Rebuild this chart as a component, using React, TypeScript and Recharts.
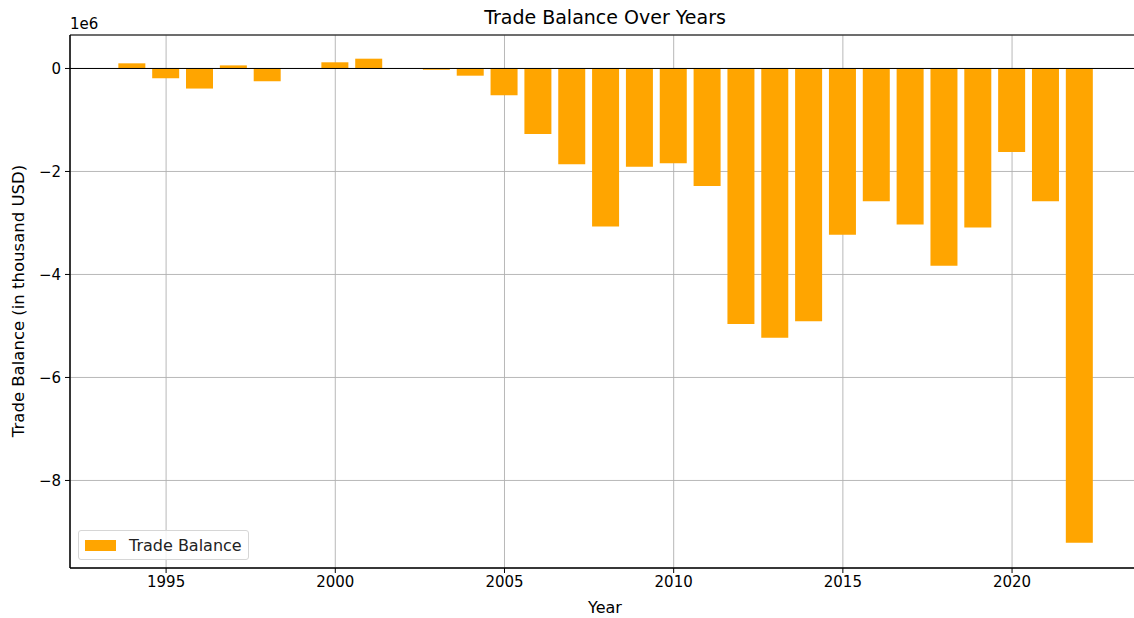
import { BarChart, Bar, XAxis, YAxis, CartesianGrid, ReferenceLine, ReferenceArea, Legend } from 'recharts';

const years = [
  1994, 1995, 1996, 1997, 1998, 1999, 2000, 2001, 2002, 2003, 2004, 2005, 2006, 2007, 2008,
  2009, 2010, 2011, 2012, 2013, 2014, 2015, 2016, 2017, 2018, 2019, 2020, 2021, 2022,
];

// trade balance, thousand USD
const balance = [
  100000, -190000, -390000, 60000, -250000, 0, 120000, 190000, 0, -25000, -140000, -520000,
  -1270000, -1860000, -3070000, -1910000, -1840000, -2280000, -4960000, -5230000, -4910000,
  -3230000, -2580000, -3030000, -3830000, -3090000, -1620000, -2580000, -9210000,
];

const xTicks = [1995, 2000, 2005, 2010, 2015, 2020];
const yTicks = [-8e6, -6e6, -4e6, -2e6, 0];

const xDomain = [1992.16, 2023.84];
const yDomain = [-9.7e6, 0.65e6];

const data = years.map((y, i) => ({ year: y, value: balance[i] }));

const FONT = 'DejaVu Sans, sans-serif';
const ORANGE = '#ffa500';
const FS = 15;
const LABEL_FS = 16.5;

const fmtY = (v: number) => {
  const n = Math.round(v / 1e6);
  return n < 0 ? '\u2212' + Math.abs(n) : String(n);
};

function LegendBox() {
  return (
    <div
      style={{
        display: 'flex',
        alignItems: 'center',
        width: 171,
        height: 30,
        border: '1px solid #d6d6d6',
        borderRadius: 3,
        background: 'rgba(255,255,255,0.8)',
        padding: '0 6px',
        fontFamily: FONT,
        fontSize: 16,
        color: '#222',
        boxSizing: 'border-box',
      }}
    >
      <span style={{ display: 'inline-block', width: 31, height: 11, background: ORANGE, marginRight: 13 }} />
      <span>Trade Balance</span>
    </div>
  );
}

export default function App() {
  // the original figure is cropped on the right, so the plot runs past the window edge
  return (
    <div style={{ position: 'absolute', left: 0, top: 0, width: 1134, height: 618, background: '#fff', overflow: 'hidden' }}>
      <BarChart
        width={1142}
        height={618}
        data={data}
        margin={{ top: 35, right: 0, bottom: 0, left: 0 }}
      >
        <CartesianGrid stroke="#b0b0b0" strokeWidth={0.9} />
        <XAxis
          dataKey="year"
          type="number"
          domain={xDomain}
          ticks={xTicks}
          allowDataOverflow
          height={50}
          tickSize={5}
          tickMargin={3}
          axisLine={{ stroke: '#000', strokeWidth: 1 }}
          tickLine={{ stroke: '#000' }}
          tick={{ fill: '#000', fontSize: FS, fontFamily: FONT }}
        />
        <YAxis
          type="number"
          domain={yDomain}
          ticks={yTicks}
          allowDataOverflow
          width={70}
          tickSize={5}
          tickMargin={4}
          tickFormatter={fmtY}
          axisLine={{ stroke: '#000', strokeWidth: 1 }}
          tickLine={{ stroke: '#000' }}
          tick={{ fill: '#000', fontSize: FS, fontFamily: FONT }}
        />
        <Bar dataKey="value" fill={ORANGE} barSize={27} isAnimationActive={false} name="Trade Balance" />
        <ReferenceLine y={0} stroke="#000" strokeWidth={1} />
        <ReferenceArea
          x1={xDomain[0]}
          x2={xDomain[1]}
          y1={yDomain[0]}
          y2={yDomain[1]}
          fill="none"
          fillOpacity={0}
          stroke="#000"
          strokeWidth={1}
          strokeOpacity={1}
          ifOverflow="visible"
        />
        <Legend
          layout="horizontal"
          align="center"
          verticalAlign="middle"
          wrapperStyle={{ left: 78, top: 530, width: 'auto', height: 'auto' }}
          content={() => <LegendBox />}
        />
        <text x={605} y={24} textAnchor="middle" fontFamily={FONT} fontSize={19} fill="#000">
          Trade Balance Over Years
        </text>
        <text x={70} y={29} textAnchor="start" fontFamily={FONT} fontSize={FS} fill="#000">
          1e6
        </text>
        <text x={605} y={613} textAnchor="middle" fontFamily={FONT} fontSize={16} fill="#000">
          Year
        </text>
        <text
          x={24}
          y={301}
          textAnchor="middle"
          fontFamily={FONT}
          fontSize={LABEL_FS}
          fill="#000"
          transform="rotate(-90 24 301)"
        >
          Trade Balance (in thousand USD)
        </text>
      </BarChart>
    </div>
  );
}
